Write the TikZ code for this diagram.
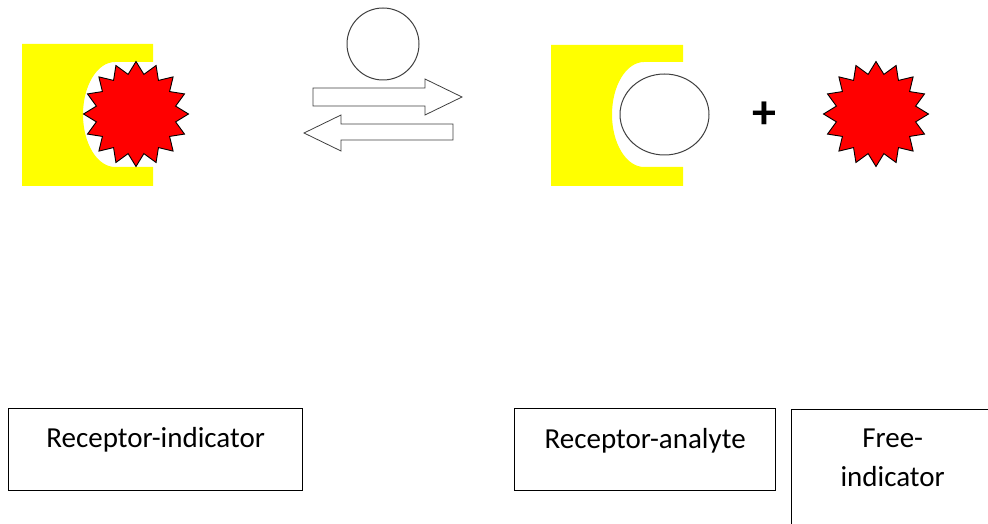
\documentclass[tikz,border=0pt]{standalone}
\usepackage{fontspec}
\setmainfont{Carlito}
\usetikzlibrary{shapes.geometric}
\definecolor{recyellow}{RGB}{255,255,0}
\definecolor{indred}{RGB}{255,0,0}
\definecolor{outl}{RGB}{64,64,64}
\tikzset{
  receptor/.style={fill=recyellow, draw=none},
  indicator/.style={star, star points=16, star point ratio=1.3, minimum size=105bp, inner sep=0pt, fill=indred, draw=black, line width=0.9bp},
  analyte/.style={draw=outl, line width=1bp, fill=white, inner sep=0pt},
  bigarrow/.style={draw=outl, line width=0.8bp, fill=white, line join=miter},
  labelbox/.style={draw=black, line width=1.3bp, inner sep=0pt, font=\fontsize{29bp}{39bp}\selectfont, align=center},
}
\begin{document}
\begin{tikzpicture}[x=1bp, y=-1bp]
\useasboundingbox (0,0) rectangle (988,524);
\clip (0,0) rectangle (988,524);
% left receptor with indicator
\fill[receptor] (22,44) -- (153,44) -- (153,62) -- (115,62)
  arc[start angle=90, end angle=270, x radius=32, y radius=-52.5]
  -- (153,167) -- (153,186) -- (22,186) -- cycle;
\node[indicator] (ind1) at (136,114) {};
% analyte above equilibrium arrows
\node[analyte, circle, minimum size=72bp] (an1) at (383,44) {};
\draw[bigarrow] (313,88) -- (425,88) -- (425,79) -- (462,97) -- (425,115) -- (425,106) -- (313,106) -- cycle;
\draw[bigarrow] (453,124) -- (341,124) -- (341,115) -- (304,133) -- (341,151) -- (341,140) -- (453,140) -- cycle;
% right receptor with analyte
\fill[receptor] (551,45) -- (683,45) -- (683,62) -- (644,62)
  arc[start angle=90, end angle=270, x radius=32, y radius=-52.5]
  -- (683,167) -- (683,186) -- (551,186) -- cycle;
\node[analyte, ellipse, minimum width=89bp, minimum height=81bp, fill=none] (an2) at (664.5,114.5) {};
\node[font=\fontsize{48bp}{50bp}\selectfont\bfseries, inner sep=0pt] (plus) at (764,115) {+};
\node[indicator] (ind2) at (876,114) {};
% labels
\node[labelbox, anchor=north west, minimum width=294bp, text height=39bp, text depth=43bp] (lri) at (8,408) {Receptor-indicator};
\node[labelbox, anchor=north west, minimum width=261bp, text height=40bp, text depth=42bp] (lra) at (514,408) {Receptor-analyte};
\node[labelbox, anchor=north west, minimum width=202bp, text height=77bp, text depth=91bp] (lfi) at (791,409) {Free-\\indicator};
\end{tikzpicture}
\end{document}
